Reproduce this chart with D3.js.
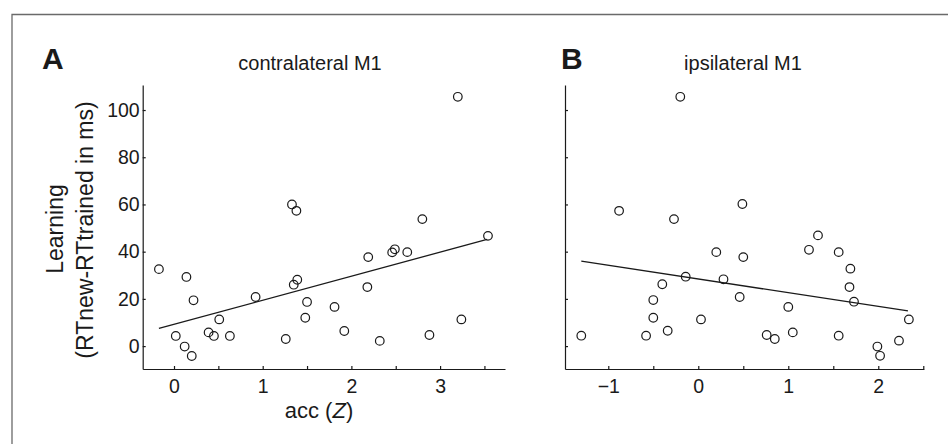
<!DOCTYPE html>
<html>
<head>
<meta charset="utf-8">
<script src="https://cdn.jsdelivr.net/npm/d3@7"></script>
<style>
  html, body { margin: 0; padding: 0; background: #fff; }
  svg { display: block; font-family: "Liberation Sans", Arial, Helvetica, sans-serif; }
  .axis path, .axis line { stroke: #1a1a1a; stroke-width: 1.2; }
  .axis text { fill: #1a1a1a; font-size: 19.5px; }
</style>
</head>
<body>
<svg id="chart"></svg>
<script>
// panel A: contralateral M1
const contraAcc = [-0.17, 0.14, 0.22, 0.02, 0.12, 0.20, 0.39, 0.45, 0.51, 0.63, 0.92, 1.26, 1.33, 1.38, 1.35, 1.39,
  1.50, 1.48, 1.81, 1.92, 3.20, 2.80, 3.54, 2.46, 2.49, 2.63, 2.19, 2.18, 2.32, 2.88, 3.24];
const contraLearning = [32.6, 29.3, 19.4, 4.3, -0.2, -4.2, 5.8, 4.3, 11.3, 4.3, 20.8, 3.0, 60.0, 57.3, 26.0, 28.1,
  18.7, 12.0, 16.6, 6.4, 105.6, 53.8, 46.7, 39.7, 41.0, 39.8, 37.7, 25.0, 2.2, 4.7, 11.3];
const contraFitX = [-0.17, 3.53];
const contraFitY = [7.5, 45.2];

// panel B: ipsilateral M1
const ipsiAcc = [-0.20, -0.88, -0.27, 0.49, 0.20, 0.50, -0.14, 0.28, -0.40, -0.50, 0.46, -0.50, 0.03, -1.30, -0.58,
  -0.34, 0.76, 0.85, 1.00, 1.05, 1.33, 1.23, 1.56, 1.69, 1.68, 1.73, 1.56, 1.99, 2.02, 2.23, 2.34];
const ipsiLearning = [105.6, 57.3, 53.8, 60.2, 39.8, 37.7, 29.4, 28.3, 26.2, 19.5, 20.8, 12.0, 11.3, 4.4, 4.4,
  6.5, 4.7, 3.0, 16.6, 5.8, 46.9, 40.8, 39.8, 32.8, 25.0, 18.8, 4.4, -0.2, -4.1, 2.3, 11.3];
const ipsiFitX = [-1.30, 2.33];
const ipsiFitY = [36.0, 14.9];

const yTicks = [0, 20, 40, 60, 80, 100];
const contraXTicks = [0, 0.5, 1, 1.5, 2, 2.5, 3, 3.5];
const ipsiXTicks = [-1, -0.5, 0, 0.5, 1, 1.5, 2, 2.5];

const width = 948, height = 444;
const svg = d3.select('#chart').attr('width', width).attr('height', height);

// grey frame (top and left only)
svg.append('path')
  .attr('d', 'M12,444V14.5H948')
  .attr('fill', 'none')
  .attr('stroke', '#6a6a6a')
  .attr('stroke-width', 1.3);

const y = d3.scaleLinear().domain([-9.7, 110.6]).range([369, 85]);

const intFormat = d => Number.isInteger(d) ? d3.format('d')(d) : '';

function panel(cfg) {
  const x = d3.scaleLinear().domain(cfg.xDomain).range(cfg.xRange);
  const g = svg.append('g');

  g.append('g')
    .attr('class', 'axis')
    .attr('transform', `translate(0,${y.range()[0]})`)
    .call(d3.axisBottom(x).tickValues(cfg.xTicks).tickFormat(intFormat)
      .tickSizeInner(-3).tickSizeOuter(0).tickPadding(10));

  g.append('g')
    .attr('class', 'axis')
    .attr('transform', `translate(${cfg.xRange[0]},0)`)
    .call(d3.axisLeft(y).tickValues(yTicks)
      .tickFormat(cfg.yLabels ? d3.format('d') : () => '')
      .tickSizeInner(-3).tickSizeOuter(0).tickPadding(3));

  g.selectAll('.axis .domain').attr('stroke-width', 1.3);

  // fit line
  g.append('line')
    .attr('x1', x(cfg.fitX[0])).attr('y1', y(cfg.fitY[0]))
    .attr('x2', x(cfg.fitX[1])).attr('y2', y(cfg.fitY[1]))
    .attr('stroke', '#1a1a1a')
    .attr('stroke-width', 1.3);

  g.selectAll('circle.pt')
    .data(cfg.xs.map((v, i) => [v, cfg.ys[i]]))
    .enter().append('circle')
    .attr('class', 'pt')
    .attr('cx', d => x(d[0]))
    .attr('cy', d => y(d[1]))
    .attr('r', 4.3)
    .attr('fill', 'none')
    .attr('stroke', '#1a1a1a')
    .attr('stroke-width', 1.2);

  g.append('text')
    .attr('x', cfg.letterX).attr('y', 69)
    .attr('font-size', 30).attr('font-weight', 'bold')
    .attr('fill', '#1a1a1a')
    .text(cfg.letter);

  g.append('text')
    .attr('x', cfg.titleX).attr('y', 70)
    .attr('text-anchor', 'middle')
    .attr('font-size', 20)
    .attr('fill', '#1a1a1a')
    .text(cfg.title);
}

panel({
  xDomain: [-0.353, 3.732], xRange: [142.7, 505],
  xTicks: contraXTicks, yLabels: true,
  xs: contraAcc, ys: contraLearning, fitX: contraFitX, fitY: contraFitY,
  letter: 'A', letterX: 42, title: 'contralateral M1', titleX: 310
});

panel({
  xDomain: [-1.481, 2.508], xRange: [565, 924],
  xTicks: ipsiXTicks, yLabels: false,
  xs: ipsiAcc, ys: ipsiLearning, fitX: ipsiFitX, fitY: ipsiFitY,
  letter: 'B', letterX: 561, title: 'ipsilateral M1', titleX: 743
});

// axis labels
const xl = svg.append('text')
  .attr('x', 319).attr('y', 418)
  .attr('text-anchor', 'middle')
  .attr('font-size', 22)
  .attr('fill', '#1a1a1a');
xl.append('tspan').text('acc (');
xl.append('tspan').attr('font-style', 'italic').text('Z');
xl.append('tspan').text(')');

svg.append('text')
  .attr('transform', 'translate(63,229) rotate(-90)')
  .attr('text-anchor', 'middle')
  .attr('font-size', 23)
  .attr('fill', '#1a1a1a')
  .text('Learning');

svg.append('text')
  .attr('transform', 'translate(93,230) rotate(-90)')
  .attr('text-anchor', 'middle')
  .attr('font-size', 23)
  .attr('fill', '#1a1a1a')
  .text('(RTnew-RTtrained in ms)');
</script>
</body>
</html>
